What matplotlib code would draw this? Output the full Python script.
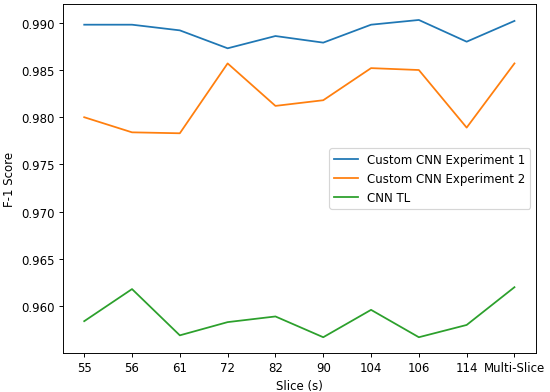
import matplotlib
matplotlib.use("Agg")
import matplotlib.pyplot as plt

slices = ["55", "56", "61", "72", "82", "90", "104", "106", "114", "Multi-Slice"]
exp1 = [0.9898, 0.9898, 0.9892, 0.9873, 0.9886, 0.9879, 0.9898, 0.9903, 0.9880, 0.9902]
exp2 = [0.9800, 0.9784, 0.9783, 0.9857, 0.9812, 0.9818, 0.9852, 0.9850, 0.9789, 0.9857]
cnn_tl = [0.9584, 0.9618, 0.9569, 0.9583, 0.9589, 0.9567, 0.9596, 0.9567, 0.9580, 0.9620]

DPI = 85
fig, ax = plt.subplots(figsize=(550 / DPI, 393 / DPI), dpi=DPI)
ax.plot(slices, exp1, label="Custom CNN Experiment 1")
ax.plot(slices, exp2, label="Custom CNN Experiment 2")
ax.plot(slices, cnn_tl, label="CNN TL")
ax.set_xlabel("Slice (s)")
ax.set_ylabel("F-1 Score")
ax.legend(loc="center right")
fig.subplots_adjust(left=0.114, right=0.9745, top=0.987, bottom=0.099)
fig.savefig("out.png", dpi=DPI)
